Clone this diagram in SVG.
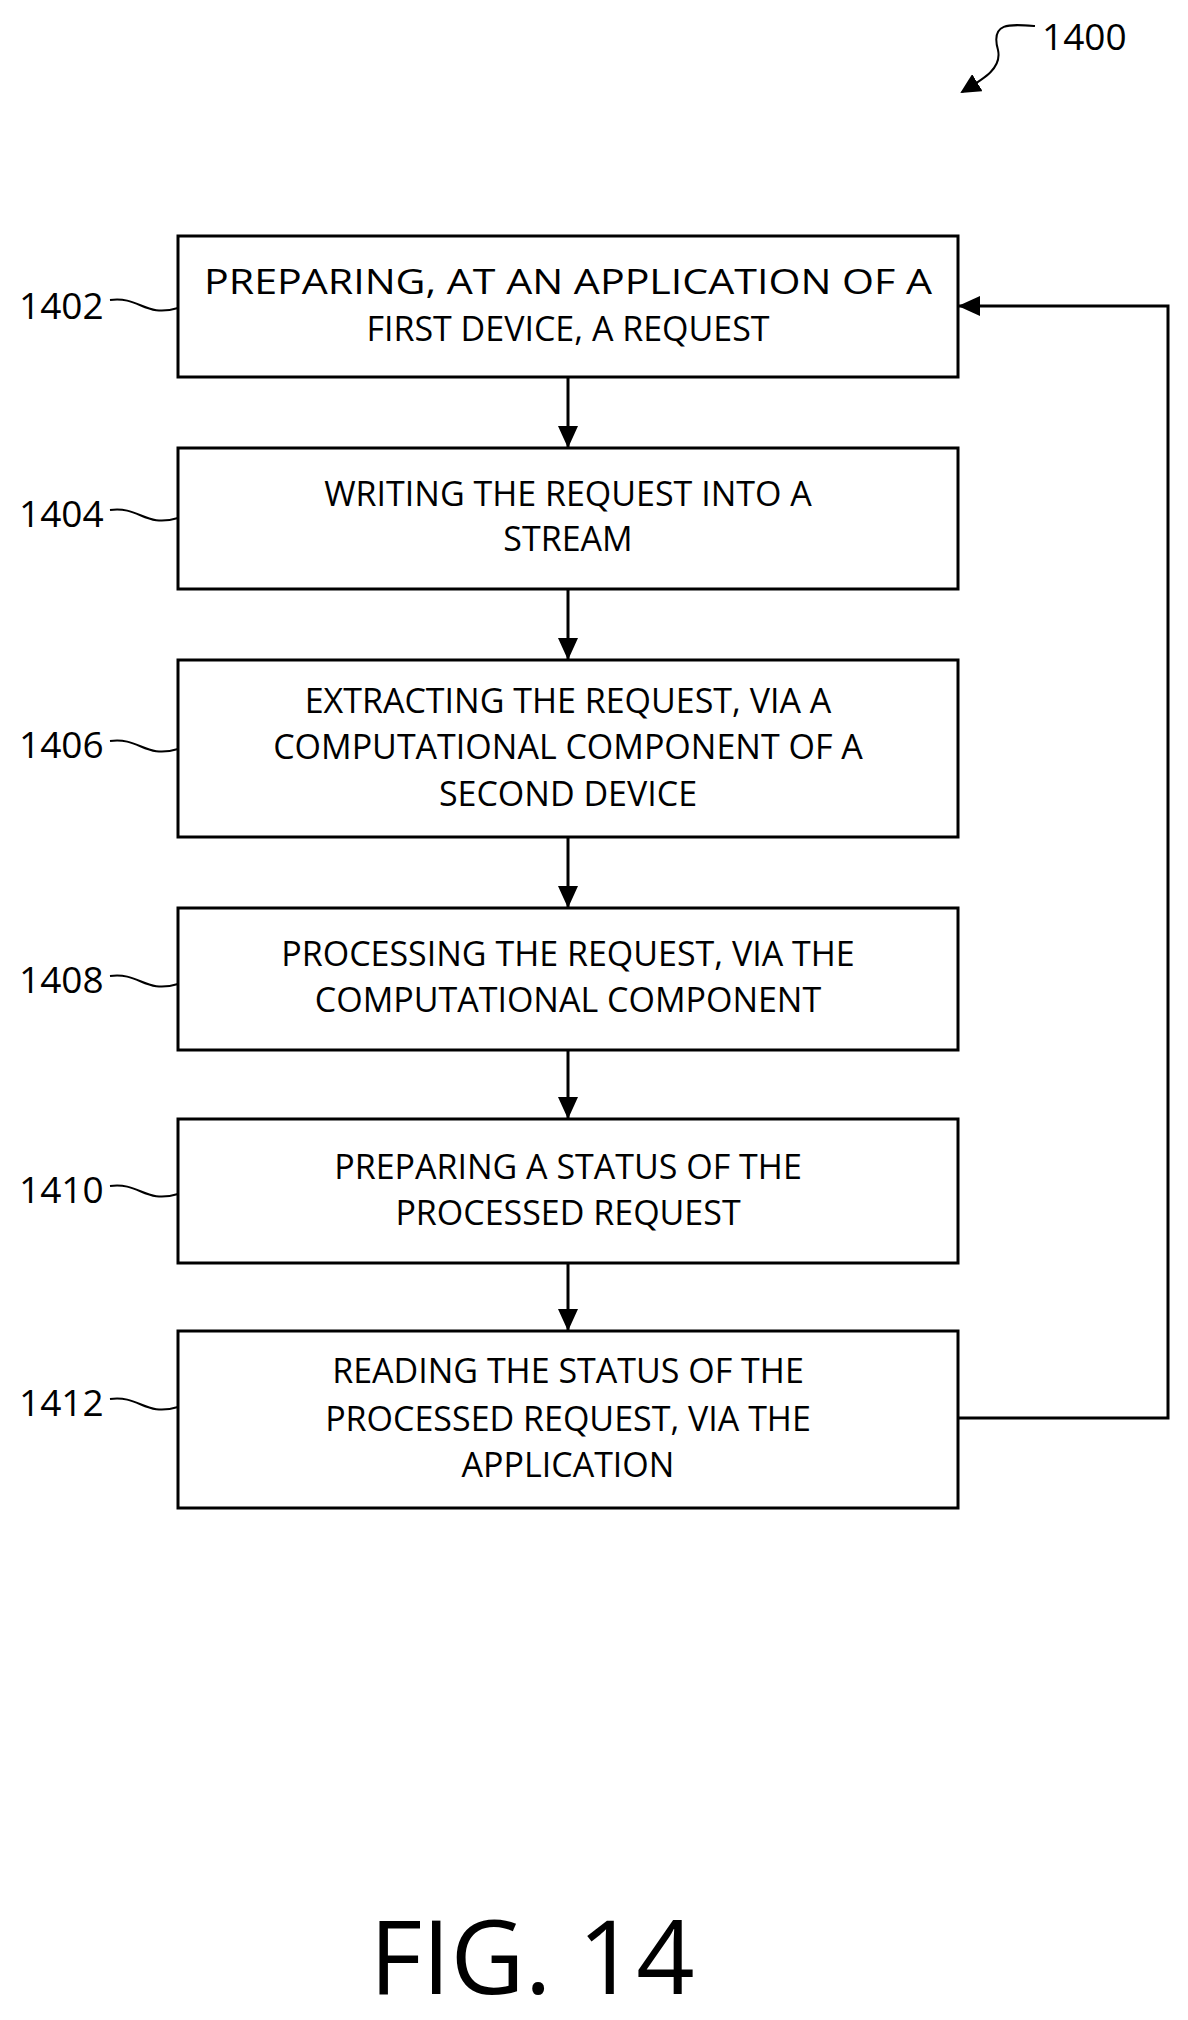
<svg xmlns="http://www.w3.org/2000/svg" width="1188" height="2020" viewBox="0 0 1188 2020">
<defs>
<marker id="ah" markerWidth="20" markerHeight="20" refX="18" refY="10" orient="auto" markerUnits="userSpaceOnUse" viewBox="0 0 20 20"><path d="M0,0 L20,10 L0,20 z" fill="#000"/></marker>
<marker id="ab" markerWidth="22" markerHeight="20" refX="22" refY="10" orient="auto" markerUnits="userSpaceOnUse" viewBox="0 0 22 20"><path d="M0,0 L22,10 L0,20 z" fill="#000"/></marker>
<style>
.b{fill:#fff;stroke:#000;stroke-width:3}
.t{font-family:"Open Sans","Liberation Sans",sans-serif;font-size:34px;text-anchor:middle;fill:#000}
.l{font-family:"Open Sans","Liberation Sans",sans-serif;font-size:37px;fill:#000}
.c{fill:none;stroke:#000;stroke-width:3}
.s{fill:none;stroke:#000;stroke-width:2}
</style>
</defs>
<rect width="1188" height="2020" fill="#fff"/>
<g id="ref1400">
<text class="l" x="1042" y="50">1400</text>
<path class="s" d="M1035,26 C1010,24 990,22 998,50 C1002,68 985,78 962,92" marker-end="url(#ah)"/>
</g>
<g id="n1402"><rect class="b" x="178" y="236" width="780" height="141"/>
<text class="t" x="568" y="294" textLength="728" lengthAdjust="spacingAndGlyphs">PREPARING, AT AN APPLICATION OF A</text><text class="t" x="568" y="341">FIRST DEVICE, A REQUEST</text>
<text class="l" x="19" y="319">1402</text><path class="s" d="M110,300 C140,296 145,318 178,308"/></g>
<g id="n1404"><rect class="b" x="178" y="448" width="780" height="141"/>
<text class="t" x="568" y="506">WRITING THE REQUEST INTO A</text><text class="t" x="568" y="551">STREAM</text>
<text class="l" x="19" y="527">1404</text><path class="s" d="M110,510 C140,506 145,528 178,518"/></g>
<g id="n1406"><rect class="b" x="178" y="660" width="780" height="177"/>
<text class="t" x="568" y="713">EXTRACTING THE REQUEST, VIA A</text><text class="t" x="568" y="759">COMPUTATIONAL COMPONENT OF A</text><text class="t" x="568" y="806">SECOND DEVICE</text>
<text class="l" x="19" y="758">1406</text><path class="s" d="M110,741 C140,737 145,759 178,749"/></g>
<g id="n1408"><rect class="b" x="178" y="908" width="780" height="142"/>
<text class="t" x="568" y="966">PROCESSING THE REQUEST, VIA THE</text><text class="t" x="568" y="1012">COMPUTATIONAL COMPONENT</text>
<text class="l" x="19" y="993">1408</text><path class="s" d="M110,976 C140,972 145,994 178,984"/></g>
<g id="n1410"><rect class="b" x="178" y="1119" width="780" height="144"/>
<text class="t" x="568" y="1179">PREPARING A STATUS OF THE</text><text class="t" x="568" y="1225">PROCESSED REQUEST</text>
<text class="l" x="19" y="1203">1410</text><path class="s" d="M110,1186 C140,1182 145,1204 178,1194"/></g>
<g id="n1412"><rect class="b" x="178" y="1331" width="780" height="177"/>
<text class="t" x="568" y="1383">READING THE STATUS OF THE</text><text class="t" x="568" y="1431">PROCESSED REQUEST, VIA THE</text><text class="t" x="568" y="1477">APPLICATION</text>
<text class="l" x="19" y="1416">1412</text><path class="s" d="M110,1399 C140,1395 145,1417 178,1407"/></g>
<g id="connectors">
<line class="c" x1="568" y1="377" x2="568" y2="448" marker-end="url(#ab)"/>
<line class="c" x1="568" y1="589" x2="568" y2="660" marker-end="url(#ab)"/>
<line class="c" x1="568" y1="837" x2="568" y2="908" marker-end="url(#ab)"/>
<line class="c" x1="568" y1="1050" x2="568" y2="1119" marker-end="url(#ab)"/>
<line class="c" x1="568" y1="1263" x2="568" y2="1331" marker-end="url(#ab)"/>
<polyline class="c" points="958,1418 1168,1418 1168,306 958,306" marker-end="url(#ab)"/>
</g>
<text x="532" y="1994" style="font-family:'Open Sans','Liberation Sans',sans-serif;font-size:102px;text-anchor:middle">FIG. 14</text>
</svg>
